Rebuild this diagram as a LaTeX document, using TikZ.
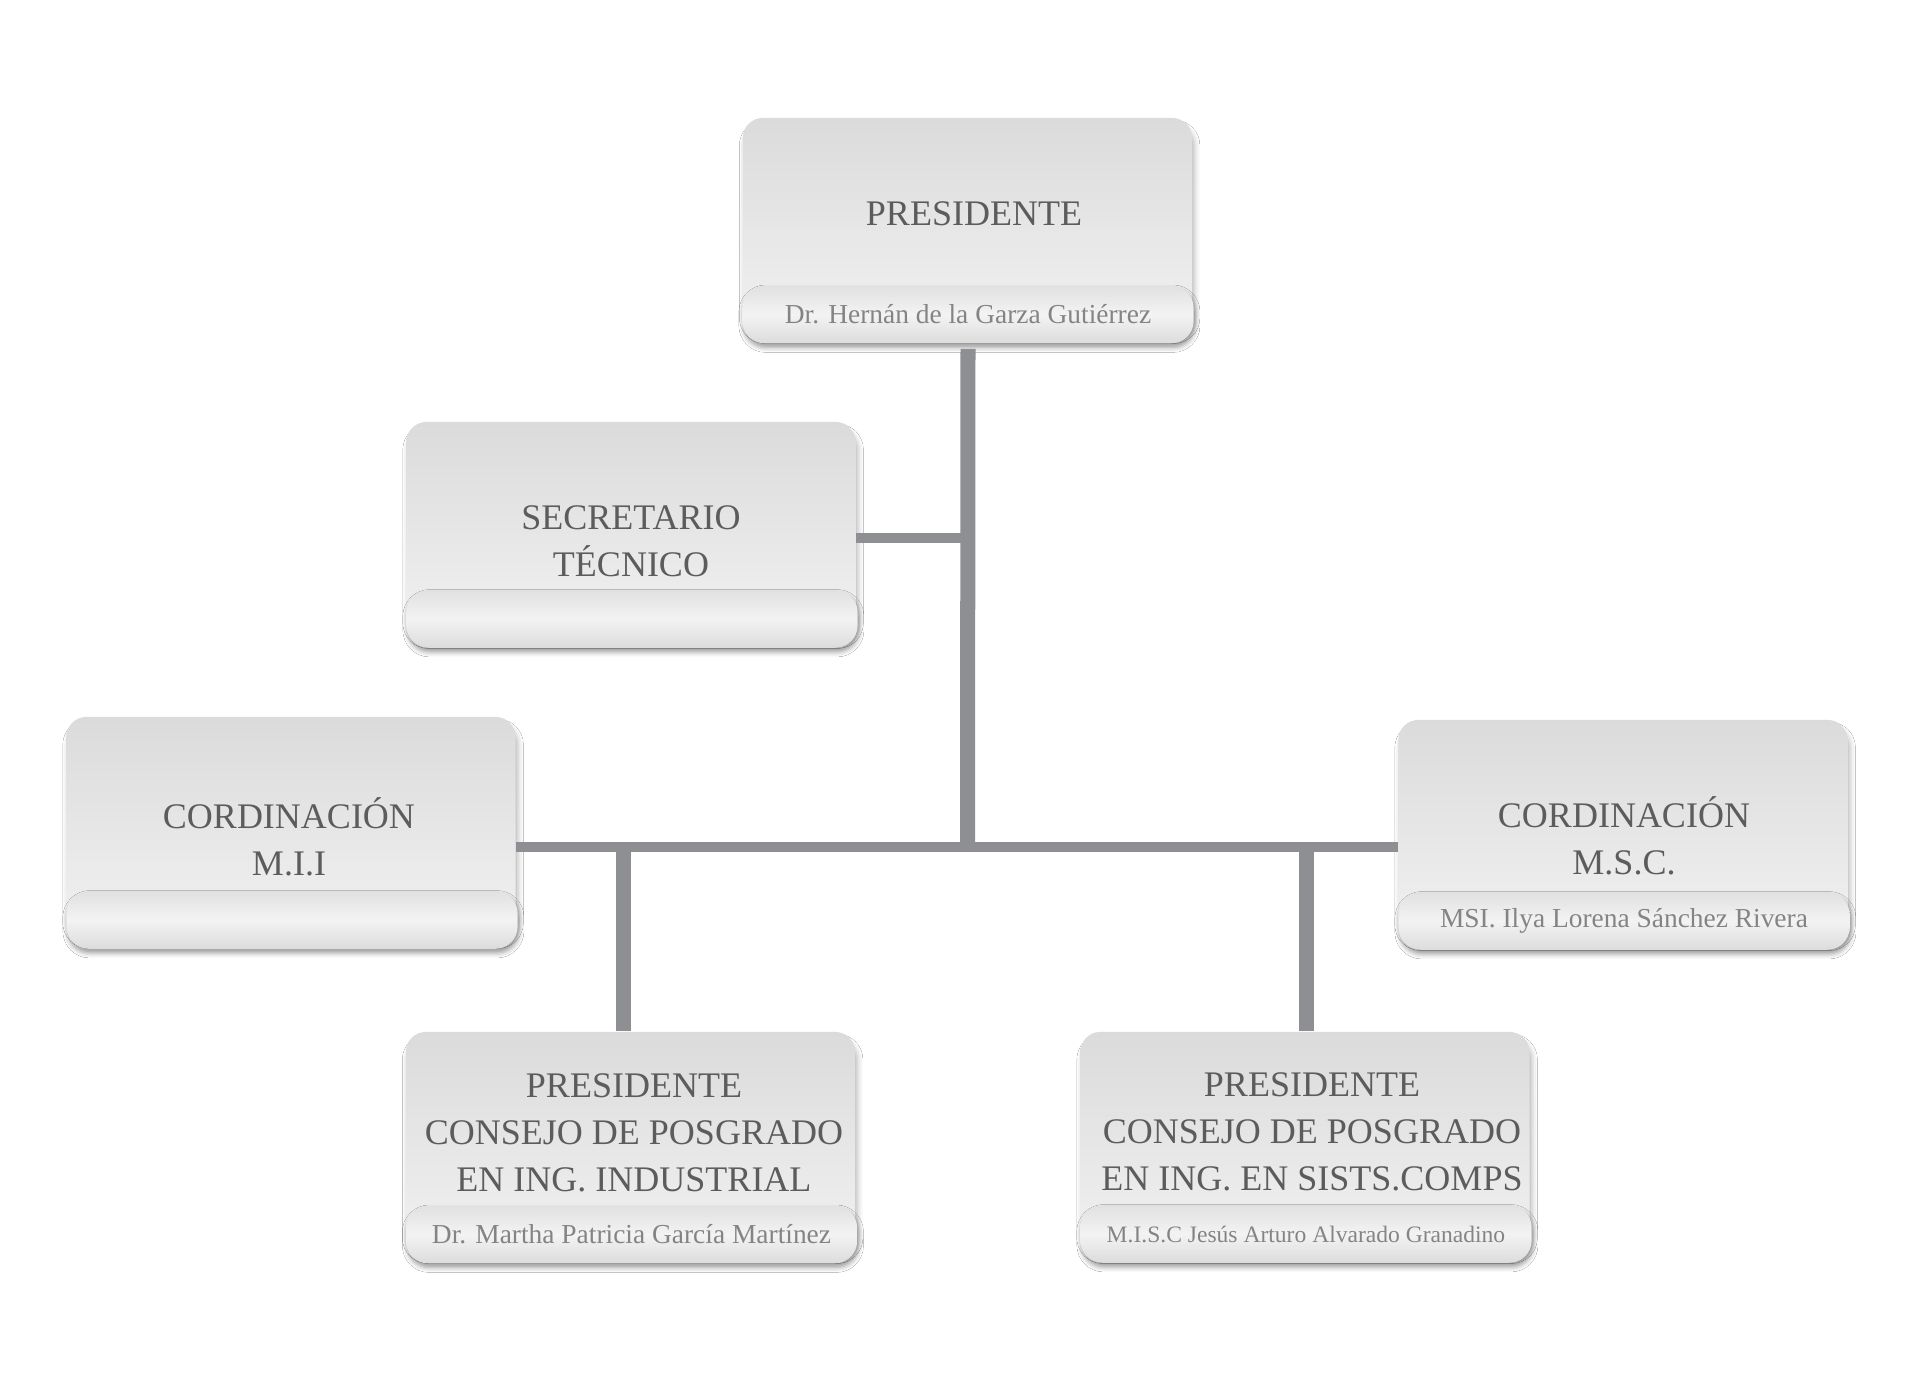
\documentclass[tikz,border=0pt]{standalone}
\usepackage{fontspec}
\setmainfont{Liberation Serif}
\usetikzlibrary{shadows.blur}
\definecolor{boxtop}{RGB}{219,219,219}
\definecolor{boxbottom}{RGB}{241,241,241}
\definecolor{bartop}{RGB}{225,225,225}
\definecolor{barmid}{RGB}{243,243,243}
\definecolor{barbottom}{RGB}{220,220,220}
\definecolor{linkgray}{RGB}{142,143,147}
\definecolor{titlegray}{RGB}{92,92,92}
\definecolor{namegray}{RGB}{132,132,132}
\tikzset{
	boxbody/.style={rectangle, rounded corners=0.2cm, minimum width=4.49cm,
		top color=boxtop, bottom color=boxbottom,
		blur shadow={shadow xshift=0.6pt, shadow yshift=-2.2pt, shadow blur radius=1.6pt, shadow opacity=30}},
	namebar/.style={rectangle, rounded corners=0.22cm, minimum width=4.51cm, minimum height=0.575cm, inner sep=0pt,
		top color=bartop, bottom color=barbottom, middle color=barmid,
		blur shadow={shadow xshift=0.4pt, shadow yshift=-1.2pt, shadow blur radius=1.4pt, shadow opacity=40},
		text=namegray, font=\fontsize{7.8}{9}\selectfont},
	titletext/.style={align=center, inner sep=0pt, text=titlegray, font=\fontsize{10.24}{13.4}\selectfont},
	trunk/.style={draw=linkgray, line width=0.15cm},
	branch/.style={draw=linkgray, line width=0.1cm}
}
\begin{document}
\begin{tikzpicture}[x=0.01cm, y=-0.01cm]
	\useasboundingbox[fill=white] (0,0) rectangle (1911,1389);

	\node[boxbody, minimum height=2.12cm] (presBox) at (967.5,224) {};
	\node[titletext] (presTitle) at (974,214) {PRESIDENTE};
	\node[namebar] (presName) at (968,314.5) {Dr. Hernán de la Garza Gutiérrez};

	\node[boxbody, minimum height=2.13cm] (secBox) at (631,528.5) {};
	\node[titletext] (secTitle) at (631,541) {SECRETARIO\\TÉCNICO};
	\node[namebar] (secName) at (632,619) {};

	\node[boxbody, minimum height=2.18cm] (miiBox) at (291,826) {};
	\node[titletext] (miiTitle) at (289,836.5) {CORDINACIÓN\\M.I.I};
	\node[namebar] (miiName) at (292,920) {};

	\node[boxbody, minimum height=2.17cm] (mscBox) at (1623,828.5) {};
	\node[titletext] (mscTitle) at (1624,836) {CORDINACIÓN\\M.S.C.};
	\node[namebar] (mscName) at (1624,921) {MSI. Ilya Lorena Sánchez Rivera};

	\node[boxbody, minimum height=2.18cm] (indlBox) at (630.5,1141) {};
	\node[titletext] (indlTitle) at (634,1132.5) {PRESIDENTE\\CONSEJO DE POSGRADO\\EN ING. INDUSTRIAL};
	\node[namebar] (indlName) at (631.5,1234.5) {Dr. Martha Patricia García Martínez};

	\node[boxbody, minimum height=2.18cm] (sistBox) at (1305,1141) {};
	\node[titletext] (sistTitle) at (1312,1132) {PRESIDENTE\\CONSEJO DE POSGRADO\\EN ING. EN SISTS.COMPS};
	\node[namebar, font=\fontsize{6.7}{8}\selectfont] (sistName) at (1306,1234) {M.I.S.C Jesús Arturo Alvarado Granadino};

	\coordinate (hub) at (967.5,847);
	\coordinate (secJoin) at (967.5,538);
	\coordinate (indlJoin) at (623.5,847);
	\coordinate (sistJoin) at (1306.5,847);

	\draw[trunk] ([yshift=-0.05cm]presName.south) -- (hub);
	\draw[branch] (secBox.east |- secJoin) -- (secJoin);
	\draw[branch] (miiBox.east |- hub) -- (mscBox.west |- hub);
	\draw[trunk] (indlJoin) -- (indlJoin |- indlBox.north);
	\draw[trunk] (sistJoin) -- (sistJoin |- sistBox.north);
\end{tikzpicture}
\end{document}
